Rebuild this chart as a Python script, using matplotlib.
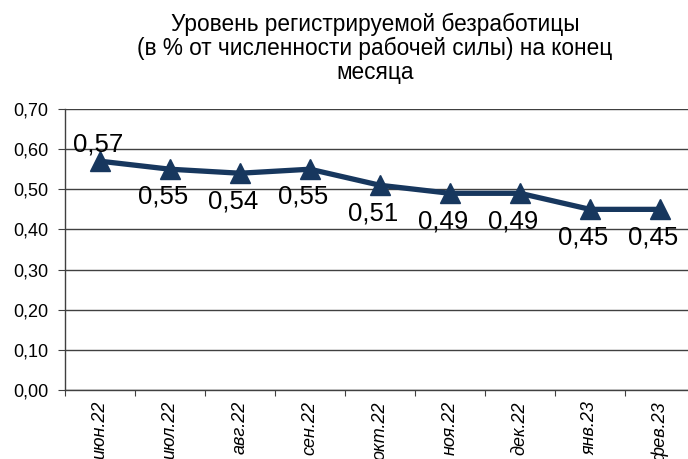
import matplotlib
matplotlib.use("Agg")
import matplotlib.pyplot as plt

categories = ["июн.22", "июл.22", "авг.22", "сен.22", "окт.22", "ноя.22", "дек.22", "янв.23", "фев.23"]
values = [0.57, 0.55, 0.54, 0.55, 0.51, 0.49, 0.49, 0.45, 0.45]
value_labels = ["0,57", "0,55", "0,54", "0,55", "0,51", "0,49", "0,49", "0,45", "0,45"]
yticks = [0.0, 0.1, 0.2, 0.3, 0.4, 0.5, 0.6, 0.7]
ytick_labels = ["0,00", "0,10", "0,20", "0,30", "0,40", "0,50", "0,60", "0,70"]
title = "Уровень регистрируемой безработицы\n(в % от численности рабочей силы) на конец\nмесяца"

plt.rcParams['font.family'] = ['Liberation Sans', 'DejaVu Sans']

W, H = 688, 459
fig = plt.figure(figsize=(W / 100, H / 100), dpi=100)
left, right, top, bottom = 65, 695, 109, 390
ax = fig.add_axes([left / W, 1 - bottom / H, (right - left) / W, (bottom - top) / H])

color = "#17375E"
x = list(range(len(categories)))
ax.plot(x, values, color=color, lw=3.8, marker="^", markersize=14, zorder=3, clip_on=False)

for i, (v, lab) in enumerate(zip(values, value_labels)):
    if i == 0:
        ax.annotate(lab, (i, v), xytext=(-1, 12), textcoords="offset points",
                    ha="center", va="center", fontsize=18.5, color="black", zorder=4)
    else:
        ax.annotate(lab, (i, v), xytext=(-5, -20), textcoords="offset points",
                    ha="center", va="center", fontsize=18.5, color="black", zorder=4)

ax.set_xlim(-0.5, len(categories) - 0.5)
ax.set_ylim(0, 0.7)
ax.set_yticks(yticks)
ax.set_yticklabels(ytick_labels, fontsize=13)
ax.yaxis.grid(True, color="#404040", lw=1.0)
ax.set_axisbelow(True)

ax.set_xticks([i - 0.5 for i in range(len(categories) + 1)])
ax.set_xticklabels([])
ax.set_xticks(x, minor=True)
ax.set_xticklabels(categories, minor=True, rotation=90, style="italic", fontsize=13, va="top")
ax.tick_params(axis="x", which="minor", length=0, pad=8)
ax.tick_params(axis="x", which="major", length=4, direction="out", color="#404040")
ax.tick_params(axis="y", length=5, direction="out", color="#404040", pad=7)

for s in ["top", "right"]:
    ax.spines[s].set_visible(False)
for s in ["left", "bottom"]:
    ax.spines[s].set_color("#404040")
    ax.spines[s].set_linewidth(1.0)

fig.text(375 / W, 1 - 13 / H, title, ha="center", va="top", fontsize=16.3, linespacing=1.05)

fig.savefig("out.png", dpi=100)
